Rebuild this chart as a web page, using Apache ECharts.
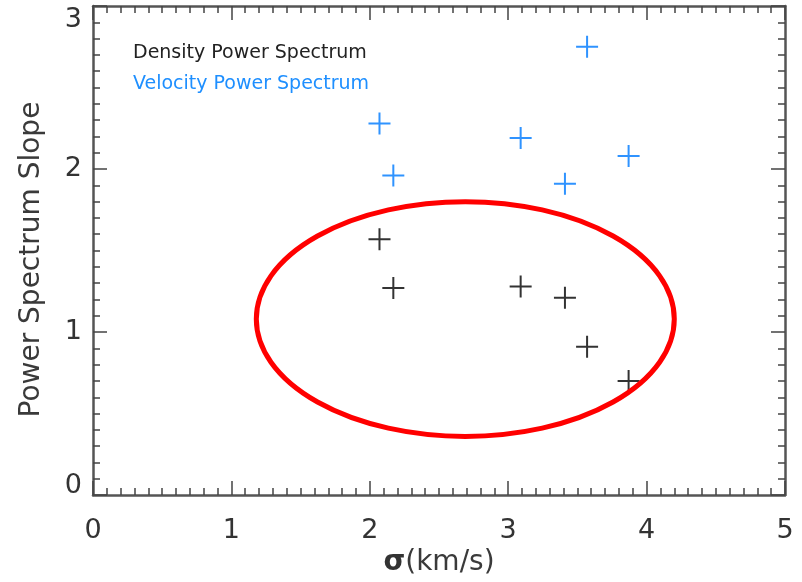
<!DOCTYPE html>
<html>
<head>
<meta charset="utf-8">
<script src="https://cdn.jsdelivr.net/npm/echarts@6/dist/echarts.min.js"></script>
<style>
  html, body { margin: 0; padding: 0; background: #fff; }
  #main { width: 802px; height: 582px; }
</style>
</head>
<body>
<div id="main"></div>
<script>
// σ (km/s) for each region
var sigma = [2.07, 2.17, 3.09, 3.41, 3.57, 3.87];
// slopes
var densitySlope = [1.57, 1.27, 1.28, 1.21, 0.91, 0.70];
var velocitySigma = [2.07, 2.17, 3.09, 3.41, 3.57, 3.87];
var velocitySlope = [2.28, 1.96, 2.19, 1.91, 2.75, 2.08];
// highlighted region: centre x, centre y, half width, half height (data units)
var ellipse = [2.69, 1.08, 1.51, 0.72];
var xTicks = [0, 1, 2, 3, 4, 5];
var yTicks = [0, 1, 2, 3];

var FONT = 'DejaVu Sans';
var AXIS_COLOR = '#555';
// plus sign marker, 22x22 with 2px bars
var PLUS = 'path://M10,0h2v10h10v2h-10v10h-2v-10h-10v-2h10z';

function zip(xs, ys) {
  return xs.map(function (x, i) { return [x, ys[i]]; });
}

function axisBase(pos, min, max, showLabel) {
  return {
    type: 'value',
    position: pos,
    min: min,
    max: max,
    interval: 1,
    axisLine: { show: true, onZero: false, lineStyle: { color: AXIS_COLOR, width: 2.5 } },
    axisTick: { show: true, inside: true, length: 14, lineStyle: { color: '#444', width: 1.5 } },
    minorTick: { show: true, splitNumber: 10, length: 7, lineStyle: { color: '#444', width: 1.5 } },
    splitLine: { show: false },
    axisLabel: { show: showLabel, color: '#333', fontFamily: FONT, fontSize: 27 }
  };
}

var chart = echarts.init(document.getElementById('main'));

var xBottom = axisBase('bottom', xTicks[0], xTicks[xTicks.length - 1], true);
xBottom.axisLabel.margin = 22;
xBottom.name = '{s|σ}(km/s)';
xBottom.nameLocation = 'middle';
xBottom.nameGap = 52;
xBottom.nameTextStyle = {
  color: '#3a3a3a', fontFamily: FONT, fontSize: 28,
  rich: { s: { fontFamily: FONT, fontSize: 28, fontWeight: 'bold', color: '#333' } }
};
var xTop = axisBase('top', xTicks[0], xTicks[xTicks.length - 1], false);

var yLeft = axisBase('left', yTicks[0], yTicks[yTicks.length - 1], true);
yLeft.axisLabel.margin = 11;
yLeft.axisLabel.formatter = function (v) {
  if (v === yTicks[0]) return '{lo|' + v + '}';
  if (v === yTicks[yTicks.length - 1]) return '{hi|' + v + '}';
  return String(v);
};
yLeft.axisLabel.rich = {
  lo: { fontFamily: FONT, fontSize: 27, color: '#333', padding: [0, 0, 18, 0] },
  hi: { fontFamily: FONT, fontSize: 27, color: '#333', padding: [28, 0, 0, 0] }
};
yLeft.name = 'Power Spectrum Slope';
yLeft.nameLocation = 'middle';
yLeft.nameGap = 47;
yLeft.nameTextStyle = { color: '#3a3a3a', fontFamily: FONT, fontSize: 28, padding: [0, 18, 0, 0] };
var yRight = axisBase('right', yTicks[0], yTicks[yTicks.length - 1], false);

chart.setOption({
  backgroundColor: '#fff',
  animation: false,
  grid: { left: 93, right: 17, top: 6, bottom: 85 },
  legend: {
    orient: 'vertical',
    left: 123,
    top: 37,
    itemWidth: 0,
    itemHeight: 0,
    itemGap: 8,
    icon: 'none',
    selectedMode: false,
    data: [
      { name: 'Density Power Spectrum', textStyle: { color: '#222' } },
      { name: 'Velocity Power Spectrum', textStyle: { color: '#1e8fff' } }
    ],
    textStyle: { fontFamily: FONT, fontSize: 19, lineHeight: 23 }
  },
  xAxis: [xBottom, xTop],
  yAxis: [yLeft, yRight],
  series: [
    {
      name: 'Density Power Spectrum',
      type: 'scatter',
      symbol: PLUS,
      symbolSize: 22,
      itemStyle: { color: '#333', opacity: 1 },
      data: zip(sigma, densitySlope)
    },
    {
      name: 'Velocity Power Spectrum',
      type: 'scatter',
      symbol: PLUS,
      symbolSize: 22,
      itemStyle: { color: '#2f93ff', opacity: 1 },
      data: zip(velocitySigma, velocitySlope)
    },
    {
      name: 'region',
      type: 'custom',
      silent: true,
      z: 5,
      data: [ellipse],
      encode: { x: 0, y: 1 },
      renderItem: function (params, api) {
        var c = api.coord([api.value(0), api.value(1)]);
        var e = api.coord([api.value(0) + api.value(2), api.value(1) + api.value(3)]);
        var rx = e[0] - c[0];
        var ry = c[1] - e[1];
        var d = 'M' + (c[0] - rx) + ' ' + c[1] +
          ' A' + rx + ' ' + ry + ' 0 1 0 ' + (c[0] + rx) + ' ' + c[1] +
          ' A' + rx + ' ' + ry + ' 0 1 0 ' + (c[0] - rx) + ' ' + c[1] + ' Z';
        return {
          type: 'path',
          shape: { pathData: d },
          style: { fill: 'none', stroke: '#ff0000', lineWidth: 5 }
        };
      }
    }
  ]
});
</script>
</body>
</html>
